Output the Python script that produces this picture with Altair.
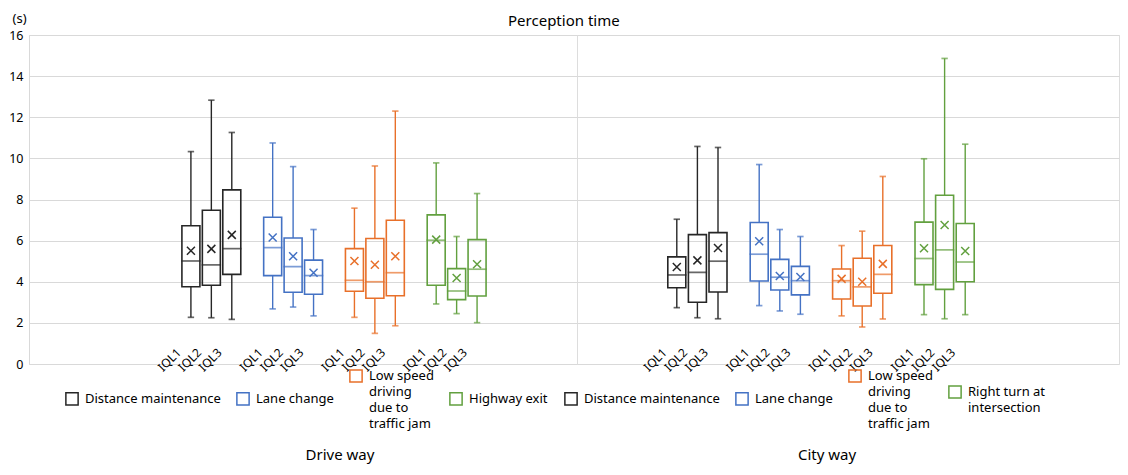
import altair as alt
import pandas as pd

levels = ["IQL1", "IQL2", "IQL3"]
drive_scenarios = ["Distance maintenance", "Lane change",
                   "Low speed\ndriving\ndue to\ntraffic jam", "Highway exit"]
city_scenarios = ["Distance maintenance", "Lane change",
                  "Low speed\ndriving\ndue to\ntraffic jam", "Right turn at\nintersection"]
colors = ["#262626", "#4472C4", "#E8702A", "#62A03F"]
y_ticks = [0, 2, 4, 6, 8, 10, 12, 14, 16]

# Drive way (scenario-major, IQL1..IQL3)
drive_min = [2.27, 2.25, 2.17, 2.68, 2.77, 2.34, 2.27, 1.49, 1.86, 2.92, 2.45, 2.01]
drive_q1 = [3.76, 3.83, 4.36, 4.30, 3.49, 3.39, 3.54, 3.20, 3.32, 3.83, 3.13, 3.31]
drive_med = [5.01, 4.82, 5.61, 5.66, 4.74, 4.30, 4.07, 4.00, 4.44, 6.02, 3.55, 4.61]
drive_q3 = [6.72, 7.48, 8.47, 7.14, 6.13, 5.05, 5.61, 6.10, 6.99, 7.25, 4.64, 6.05]
drive_max = [10.33, 12.83, 11.26, 10.75, 9.60, 6.54, 7.58, 9.63, 12.30, 9.78, 6.20, 8.29]
drive_mean = [5.51, 5.60, 6.28, 6.15, 5.24, 4.44, 5.01, 4.83, 5.24, 6.05, 4.18, 4.85]

# City way
city_min = [2.74, 2.25, 2.20, 2.84, 2.58, 2.42, 2.34, 1.80, 2.19, 2.40, 2.20, 2.40]
city_q1 = [3.71, 3.00, 3.50, 4.04, 3.60, 3.36, 3.16, 2.82, 3.44, 3.86, 3.63, 4.00]
city_med = [4.33, 4.46, 5.00, 5.34, 4.22, 4.05, 4.05, 3.75, 4.36, 5.13, 5.55, 4.96]
city_q3 = [5.21, 6.29, 6.39, 6.88, 5.09, 4.75, 4.62, 5.14, 5.76, 6.90, 8.21, 6.83]
city_max = [7.04, 10.58, 10.53, 9.70, 6.54, 6.20, 5.76, 6.46, 9.12, 9.98, 14.86, 10.69]
city_mean = [4.72, 5.04, 5.64, 5.97, 4.28, 4.23, 4.14, 4.00, 4.87, 5.63, 6.76, 5.50]

FONT = "Noto Sans"


def make_df(scenarios, wmin, q1, med, q3, wmax, mean):
    rows = []
    k = 0
    for si, s in enumerate(scenarios):
        for lv in levels:
            rows.append(dict(slot=f"{si}_{lv}", scenario=s, level=lv,
                             wmin=wmin[k], q1=q1[k], med=med[k], q3=q3[k],
                             wmax=wmax[k], mean=mean[k]))
            k += 1
    return pd.DataFrame(rows)


def slot_domain(n, lead, trail):
    dom = [f"lead{i}_gap" for i in range(lead)]
    for si in range(n):
        dom += [f"{si}_{lv}" for lv in levels]
        if si < n - 1:
            dom.append(f"{si}_gap")
    dom += [f"trail{i}_gap" for i in range(trail)]
    return dom


def panel(df, scenarios, width, lead, trail, pad_outer, align, show_y, legend_x, title, title_dx):
    x_enc = alt.X(
        "slot:N",
        scale=alt.Scale(domain=slot_domain(len(scenarios), lead, trail), paddingInner=0,
                        paddingOuter=pad_outer, align=align),
        axis=alt.Axis(title=None, labelAngle=-45, labelAlign="right",
                      labelBaseline="middle", labelPadding=-14, labelOffset=-12,
                      ticks=False, tickSize=0, domain=False, grid=False,
                      labelFontSize=12, labelColor="#000000", labelFont=FONT,
                      labelExpr="indexof(datum.value, 'gap') >= 0 ? '' : split(datum.value, '_')[1]"),
    )
    if show_y:
        y_axis = alt.Axis(values=y_ticks, title="(s)", titleAngle=0, titleAlign="left",
                          titleBaseline="top", titleX=-17, titleY=-23, titleFontSize=13,
                          titleFontWeight="normal", titleFont=FONT, titleColor="#000000",
                          labelFontSize=12.5, labelColor="#000000", labelFont=FONT,
                          labelPadding=6, ticks=False, domain=True, domainColor="#d9d9d9",
                          gridColor="#d9d9d9", gridWidth=1)
    else:
        y_axis = alt.Axis(values=y_ticks, title=None, labels=False, ticks=False,
                          domain=False, domainColor="transparent", domainWidth=0,
                          gridColor="#d9d9d9", gridWidth=1)
    yscale = alt.Scale(domain=[0, 16], nice=False, zero=True)

    def Y(field):
        return alt.Y(field, scale=yscale, axis=y_axis)

    color = alt.Color(
        "scenario:N",
        scale=alt.Scale(domain=scenarios, range=colors),
        legend=alt.Legend(title=None, orient="none", legendX=legend_x, legendY=334,
                          direction="horizontal", columns=4, symbolType="square",
                          symbolSize=150, symbolStrokeWidth=1.5,
                          symbolFillColor="transparent", labelFontSize=13,
                          labelFont=FONT, labelColor="#000000", labelLimit=300,
                          labelOffset=6, columnPadding=12, padding=0,
                          labelExpr="split(datum.label, '\\n')"),
    )
    base = alt.Chart(df).encode(x=x_enc, color=color)
    box = base.mark_bar(filled=False, size=18, strokeWidth=1.6).encode(
        y=Y("q1:Q"), y2="q3:Q")
    wlow = base.mark_rule(strokeWidth=1.4).encode(y=Y("wmin:Q"), y2="q1:Q")
    whigh = base.mark_rule(strokeWidth=1.4).encode(y=Y("q3:Q"), y2="wmax:Q")
    median = base.mark_tick(filled=False, size=18, thickness=0.3, strokeWidth=1.4).encode(y=Y("med:Q"))
    capmin = base.mark_tick(filled=False, size=5, thickness=0.3, strokeWidth=1.4).encode(y=Y("wmin:Q"))
    capmax = base.mark_tick(filled=False, size=5, thickness=0.3, strokeWidth=1.4).encode(y=Y("wmax:Q"))
    mean = base.mark_point(shape="M-1,-1L1,1M-1,1L1,-1", filled=False, size=64,
                           strokeWidth=1.5, opacity=1).encode(y=Y("mean:Q"))
    return alt.layer(box, wlow, whigh, median, capmin, capmax, mean).properties(
        width=width, height=329,
        title=alt.TitleParams(title, orient="bottom", anchor="middle", frame="group",
                              fontSize=15, fontWeight="normal", font=FONT,
                              color="#000000", dx=title_dx, offset=17),
    )


drive_df = make_df(drive_scenarios, drive_min, drive_q1, drive_med, drive_q3, drive_max, drive_mean)
city_df = make_df(city_scenarios, city_min, city_q1, city_med, city_q3, city_max, city_mean)

left = panel(drive_df, drive_scenarios, 548, 7, 4, 0.405, 0.52, True, 36, "Drive way", 37)
right = panel(city_df, city_scenarios, 542, 4, 6, 0.655, 0.263, False, -13, "City way", -21)

chart = alt.hconcat(left, right, spacing=0, bounds="flush").resolve_scale(
    color="independent", x="independent", y="independent"
).properties(
    title=alt.TitleParams("Perception time", fontSize=15, fontWeight="normal", font=FONT,
                          color="#000000", anchor="middle", offset=-17),
    padding={"left": 0, "top": 3, "right": 0, "bottom": 0},
).configure_view(stroke="transparent", strokeWidth=0).configure_axisX(
    grid=False, domain=False
).configure(font=FONT, style={"guide-label": {"lineHeight": 16}})

chart.save("out.html", embed_options={"renderer": "svg", "actions": False})
